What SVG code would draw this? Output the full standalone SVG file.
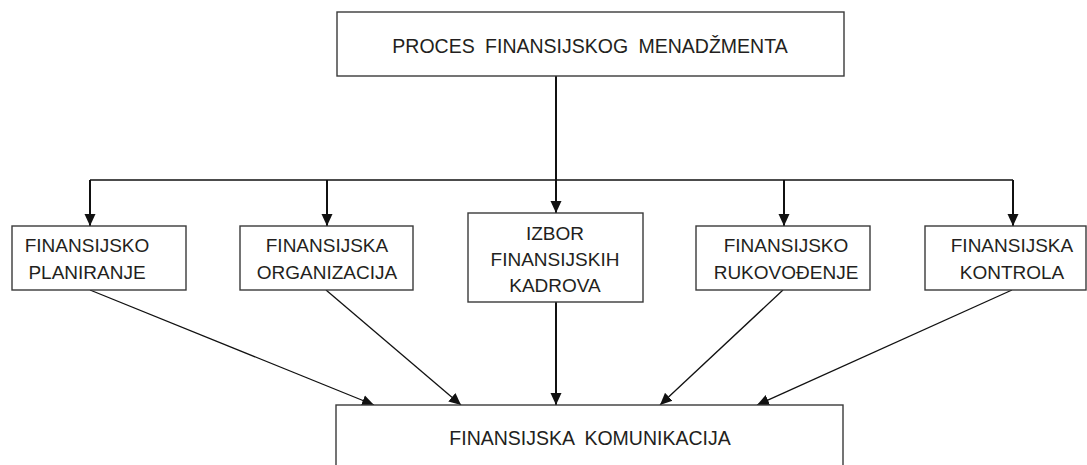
<svg xmlns="http://www.w3.org/2000/svg" width="1087" height="465" viewBox="0 0 1087 465">
<style>
.box{fill:#fff;stroke:#3a3a3a;stroke-width:1.4}
.t{font-family:"Liberation Sans",Arial,sans-serif;font-size:19px;fill:#231f20;text-anchor:middle}
.tw{word-spacing:5px}
.thick{stroke:#111;stroke-width:2;fill:none}
.thin{stroke:#111;stroke-width:1.3;fill:none}
</style>
<defs>
<marker id="ah" markerUnits="userSpaceOnUse" markerWidth="12" markerHeight="12" refX="12" refY="5.5" orient="auto" viewBox="0 0 12 11">
<path d="M0,0 L12,5.5 L0,11 z" fill="#111"/>
</marker>
</defs>
<g id="connectors">
<line class="thick" x1="556" y1="76" x2="556" y2="213" marker-end="url(#ah)"/>
<line class="thin" x1="90" y1="180" x2="1013" y2="180"/>
<line class="thick" x1="90" y1="180" x2="90" y2="226" marker-end="url(#ah)"/>
<line class="thick" x1="327" y1="180" x2="327" y2="226" marker-end="url(#ah)"/>
<line class="thick" x1="784" y1="180" x2="784" y2="226" marker-end="url(#ah)"/>
<line class="thick" x1="1013" y1="180" x2="1013" y2="226" marker-end="url(#ah)"/>
<line class="thin" x1="90" y1="290" x2="374" y2="405" marker-end="url(#ah)"/>
<line class="thin" x1="326" y1="290" x2="461" y2="405" marker-end="url(#ah)"/>
<line class="thick" x1="556" y1="302" x2="556" y2="405" marker-end="url(#ah)"/>
<line class="thin" x1="783" y1="290" x2="660" y2="405" marker-end="url(#ah)"/>
<line class="thin" x1="1012" y1="290" x2="757" y2="405" marker-end="url(#ah)"/>
</g>
<g id="node-top">
<rect class="box" x="337" y="12" width="507" height="64"/>
<text class="t tw" x="590" y="53" style="font-size:19.5px">PROCES FINANSIJSKOG MENADŽMENTA</text>
</g>
<g id="node-planiranje">
<rect class="box" x="12" y="226" width="174" height="64"/>
<text class="t" x="87" y="252">FINANSIJSKO</text>
<text class="t" x="87" y="279">PLANIRANJE</text>
</g>
<g id="node-organizacija">
<rect class="box" x="240" y="226" width="173" height="64"/>
<text class="t" x="327" y="252">FINANSIJSKA</text>
<text class="t" x="327" y="279">ORGANIZACIJA</text>
</g>
<g id="node-izbor">
<rect class="box" x="468" y="213" width="175" height="89"/>
<text class="t" x="555" y="240">IZBOR</text>
<text class="t" x="555" y="266">FINANSIJSKIH</text>
<text class="t" x="555" y="292">KADROVA</text>
</g>
<g id="node-rukovodjenje">
<rect class="box" x="696" y="226" width="174" height="64"/>
<text class="t" x="786" y="252">FINANSIJSKO</text>
<text class="t" x="786" y="279">RUKOVOĐENJE</text>
</g>
<g id="node-kontrola">
<rect class="box" x="925" y="226" width="161" height="64"/>
<text class="t" x="1012" y="252">FINANSIJSKA</text>
<text class="t" x="1012" y="279">KONTROLA</text>
</g>
<g id="node-komunikacija">
<rect class="box" x="336" y="405" width="507" height="80"/>
<text class="t tw" x="590" y="445" style="font-size:19.5px">FINANSIJSKA KOMUNIKACIJA</text>
</g>
</svg>
